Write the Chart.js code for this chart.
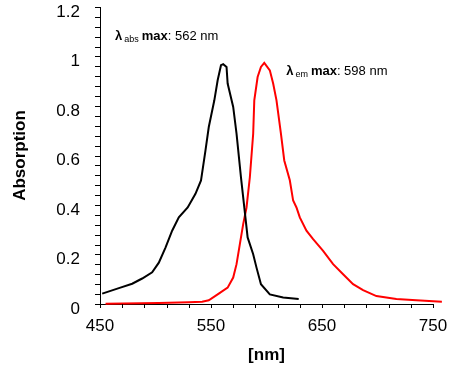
<!DOCTYPE html>
<html>
<head>
<meta charset="utf-8">
<script src="https://cdn.jsdelivr.net/npm/chart.js@4.4.1/dist/chart.umd.min.js"></script>
<style>
  html, body { margin: 0; padding: 0; background: #fff; }
  #wrap { position: relative; width: 454px; height: 368px; }
  #wrap canvas { position: absolute; left: 0; top: 0; }
</style>
</head>
<body>
<div id="wrap">
  <canvas id="chart" width="454" height="368"></canvas>
  <canvas id="ticks" width="454" height="368"></canvas>
</div>
<script>
// absorption spectrum (black)
const absWavelength = [452, 467, 479, 488, 497, 503, 509, 515, 521, 529, 536, 541, 545, 548, 553, 556, 559, 561, 564, 565, 570, 573, 577, 580, 583, 588, 591, 595, 603, 615, 629];
const absValues = [0.042, 0.064, 0.082, 0.103, 0.128, 0.167, 0.228, 0.296, 0.350, 0.390, 0.445, 0.499, 0.620, 0.715, 0.823, 0.904, 0.965, 0.969, 0.958, 0.891, 0.796, 0.688, 0.512, 0.390, 0.269, 0.201, 0.147, 0.080, 0.039, 0.026, 0.020];

// emission spectrum (red)
const emWavelength = [455, 503, 530, 542, 548, 557, 565, 570, 573, 576, 579, 582, 585, 588, 589, 592, 595, 598, 603, 606, 609, 613, 616, 621, 624, 627, 630, 636, 642, 651, 660, 669, 678, 687, 699, 717, 735, 758];
const emValues = [0.001, 0.004, 0.007, 0.009, 0.015, 0.042, 0.066, 0.107, 0.161, 0.242, 0.323, 0.390, 0.512, 0.688, 0.823, 0.917, 0.958, 0.974, 0.944, 0.891, 0.823, 0.688, 0.580, 0.500, 0.418, 0.390, 0.350, 0.296, 0.262, 0.215, 0.161, 0.120, 0.080, 0.056, 0.032, 0.020, 0.015, 0.009];

// tick marks and labels
const xTickValues = [450, 470, 490, 510, 530, 550, 570, 590, 610, 630, 650, 670, 690, 710, 730, 750];
const xTickLabels = [450, 550, 650, 750];
const yTickValues = [0, 0.04, 0.08, 0.12, 0.16, 0.2, 0.24, 0.28, 0.32, 0.36, 0.4, 0.44, 0.48, 0.52, 0.56, 0.6, 0.64, 0.68, 0.72, 0.76, 0.8, 0.84, 0.88, 0.92, 0.96, 1, 1.04, 1.08, 1.12, 1.16, 1.2];
const yTickLabels = ['0', '0.2', '0.4', '0.6', '0.8', '1', '1.2'];

// peak annotations: [x, y, sub, value]
const notes = [
    [463.5, 1.066, 'abs', ': 562 nm'],
    [617.7, 0.924, 'em', ': 598 nm'],
];

const FONT = 'Arial, "Liberation Sans", sans-serif';

const toPoints = (xs, ys) => xs.map((x, i) => ({ x: x, y: ys[i] }));

// the lambda max labels
const notePlugin = {
    id: 'notes',
    afterDatasetsDraw(chart) {
        const ctx = chart.ctx;
        const xs = chart.scales.x;
        const ys = chart.scales.y;
        ctx.save();
        ctx.fillStyle = '#000';
        ctx.textBaseline = 'alphabetic';
        ctx.textAlign = 'left';
        for (const n of notes) {
            let x = xs.getPixelForValue(n[0]);
            const y = ys.getPixelForValue(n[1]);
            ctx.font = 'bold 13px ' + FONT;
            ctx.fillText('\u03bb', x, y);
            x += ctx.measureText('\u03bb').width + 2;
            ctx.font = '9px ' + FONT;
            ctx.fillText(n[2], x, y + 2);
            x += ctx.measureText(n[2]).width + 3;
            ctx.font = 'bold 13px ' + FONT;
            ctx.fillText('max', x, y);
            x += ctx.measureText('max').width;
            ctx.font = '13px ' + FONT;
            ctx.fillText(n[3], x, y);
        }
        ctx.restore();
    }
};

const chart = new Chart(document.getElementById('chart'), {
    type: 'line',
    data: {
        datasets: [
            {
                label: 'Absorption',
                data: toPoints(absWavelength, absValues),
                borderColor: '#000000',
                borderWidth: 2,
                pointRadius: 0,
                tension: 0,
                fill: false,
            },
            {
                label: 'Emission',
                data: toPoints(emWavelength, emValues),
                borderColor: '#ff0000',
                borderWidth: 2,
                pointRadius: 0,
                tension: 0,
                fill: false,
                // let the red tail run a little past 750
                clip: { left: 2, top: 2, right: 12, bottom: 2 },
            },
        ],
    },
    options: {
        responsive: false,
        animation: false,
        layout: { padding: { left: 0, right: 21, top: 7, bottom: 0 } },
        plugins: {
            legend: { display: false },
            tooltip: { enabled: false },
        },
        scales: {
            x: {
                type: 'linear',
                min: 450,
                max: 750,
                afterBuildTicks: s => { s.ticks = xTickValues.map(v => ({ value: v })); },
                afterFit: s => { s.height = 64; s.paddingLeft = 0; s.paddingRight = 0; },
                grid: { display: false },
                border: { display: true, color: '#000', width: 1 },
                ticks: {
                    autoSkip: false,
                    maxRotation: 0,
                    padding: 4,
                    color: '#000',
                    font: { family: FONT, size: 17 },
                    callback: v => xTickLabels.includes(v) ? String(v) : '',
                },
                title: {
                    display: true,
                    text: '[nm]',
                    color: '#000',
                    font: { family: FONT, size: 17, weight: 'bold' },
                    padding: { top: 0, bottom: 2 },
                },
            },
            y: {
                type: 'linear',
                min: 0,
                max: 1.2,
                afterBuildTicks: s => { s.ticks = yTickValues.map(v => ({ value: v })); },
                afterFit: s => { s.width = 100; s.paddingTop = 0; s.paddingBottom = 0; },
                grid: { display: false },
                border: { display: true, color: '#000', width: 1 },
                ticks: {
                    autoSkip: false,
                    padding: 12,
                    labelOffset: 5,
                    color: '#000',
                    font: { family: FONT, size: 17 },
                    callback: v => {
                        const s = String(Math.round(v * 100) / 100);
                        return yTickLabels.includes(s) ? s : '';
                    },
                },
                title: {
                    display: true,
                    text: 'Absorption',
                    color: '#000',
                    font: { family: FONT, size: 17, weight: 'bold' },
                    padding: { top: 10, bottom: 0 },
                },
            },
        },
    },
    plugins: [notePlugin],
});

// outside tick marks on a transparent canvas laid over the chart,
// placed with the chart's own scales
(function drawTicks() {
    const ctx = document.getElementById('ticks').getContext('2d');
    const xs = chart.scales.x;
    const ys = chart.scales.y;
    const left = Math.round(xs.getPixelForValue(450));
    const bottom = Math.round(ys.getPixelForValue(0));
    ctx.clearRect(0, 0, 454, 368);
    ctx.fillStyle = '#000';
    for (const v of xTickValues) {
        ctx.fillRect(Math.round(xs.getPixelForValue(v)), bottom, 1, 4);
    }
    for (const v of yTickValues) {
        ctx.fillRect(left - 5, Math.round(ys.getPixelForValue(v)), 5, 1);
    }
})();
</script>
</body>
</html>
